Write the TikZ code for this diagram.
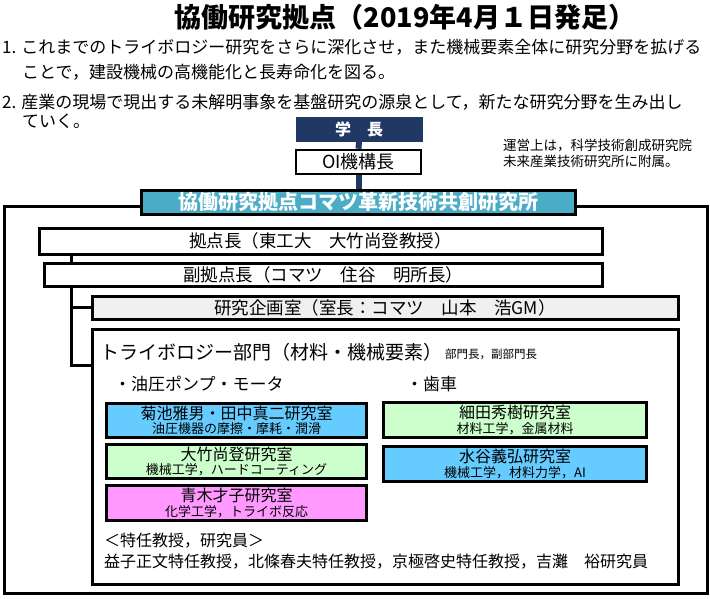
\documentclass[tikz,border=0pt]{standalone}
\usepackage{fontspec}
\setmainfont{Noto Sans CJK JP}
\usepackage{tikz}
\usetikzlibrary{positioning,calc}
\definecolor{chiefnavy}{RGB}{31,56,100}
\definecolor{hubcyan}{RGB}{75,172,198}
\definecolor{labblue}{RGB}{102,204,255}
\definecolor{labgreen}{RGB}{204,255,204}
\definecolor{labpink}{RGB}{255,153,255}
\definecolor{plangray}{RGB}{240,240,240}
\newcommand{\pxsize}[1]{\fontsize{#1}{#1}\selectfont}

\begin{document}
\begin{tikzpicture}[x=1pt, y=-1pt,
    headline/.style={font=\bfseries\pxsize{27}, inner sep=0pt},
    para/.style={anchor=west, font=\pxsize{17}, inner sep=0pt},
    chief/.style={fill=chiefnavy, draw=chiefnavy, text=white, font=\bfseries\pxsize{16}, minimum width=126, minimum height=24, inner sep=0pt},
    office/.style={draw, line width=2.5pt, fill=white, font=\pxsize{18}, minimum width=125, minimum height=24, inner sep=0pt},
    hub/.style={draw, line width=3pt, fill=hubcyan, text=white, font=\bfseries\pxsize{20}, minimum width=434, minimum height=24, inner sep=0pt},
    frame/.style={draw, line width=3pt, inner sep=0pt},
    rank/.style={draw, line width=3pt, fill=white, font=\pxsize{17.5}, inner sep=0pt},
    lab/.style={draw, line width=3pt, align=center, inner sep=0pt, font=\pxsize{16}},
    note/.style={anchor=west, inner sep=0pt},
    trunk/.style={chiefnavy, line width=6pt},
    link/.style={line width=2.5pt}
]
    \useasboundingbox (0,0) rectangle (710,598);

    \node[headline] (title) at (405,17) {協働研究拠点（2019年4月１日発足）};
    \node[para] (aim1) at (2,47) {1. これまでのトライボロジー研究をさらに深化させ，また機械要素全体に研究分野を拡げる};
    \node[para] (aim1b) at (22,72) {ことで，建設機械の高機能化と長寿命化を図る。};
    \node[para] (aim2) at (2,102) {2. 産業の現場で現出する未解明事象を基盤研究の源泉として，新たな研究分野を生み出し};
    \node[para] (aim2b) at (22,121) {ていく。};

    \node[chief] (president) at (359,129) {学　長};
    \node[office] (oi) at (358.5,162) {OI機構長};
    \node[note, anchor=north west, align=left, font=\pxsize{13.5}] (affil) at (503,139)
        {運営上は，科学技術創成研究院\\[2pt]未来産業技術研究所に附属。};

    \node[frame, minimum width=703, minimum height=387] (institute) at (355.5,399.5) {};
    \draw[trunk] (president.south) -- (oi.north);
    \draw[trunk] (oi.south) -- (358.5,189);
    \node[hub] (hub) at (358,202) {協働研究拠点コマツ革新技術共創研究所};

    \node[rank, minimum width=563, minimum height=26] (director) at (320.5,241) {拠点長（東工大　大竹尚登教授）};
    \node[rank, minimum width=558, minimum height=23] (deputy) at (323,274.5) {副拠点長（コマツ　住谷　明所長）};
    \node[rank, fill=plangray, minimum width=586, minimum height=23] (planning) at (385,307.5) {研究企画室（室長：コマツ　山本　浩GM）};
    \node[rank, minimum width=586, minimum height=255] (tribo) at (385,456.5) {};

    \draw[link] ([xshift=34pt]director.south west) -- ([xshift=29pt]deputy.north west);
    \draw[link] ([xshift=29pt]deputy.south west) |- (planning.west);
    \draw[link] ([xshift=29pt]deputy.south west) |- ([yshift=-38pt]tribo.north west);

    \node[note, font=\pxsize{19}] (tribotitle) at (100,352) {トライボロジー部門（材料・機械要素）};
    \node[note, font=\pxsize{11.5}] (heads) at (445,354) {部門長，副部門長};
    \node[note, font=\pxsize{17}] (hydraulic) at (114,384) {・油圧ポンプ・モータ};
    \node[note, font=\pxsize{17}] (gear) at (406,384) {・歯車};

    \node[lab, fill=labblue, minimum width=260, minimum height=34] (kikuchi) at (236.5,420.5)
        {菊池雅男・田中真二研究室\\[-1.5pt]{\pxsize{13}油圧機器の摩擦・摩耗・潤滑}};
    \node[lab, fill=labgreen, minimum width=260, minimum height=34] (otake) at (236.5,461.5)
        {大竹尚登研究室\\[-1.5pt]{\pxsize{13}機械工学，ハードコーティング}};
    \node[lab, fill=labpink, minimum width=260, minimum height=35] (aoki) at (236.5,503)
        {青木才子研究室\\[-1.5pt]{\pxsize{13}化学工学，トライボ反応}};
    \node[lab, fill=labgreen, minimum width=263, minimum height=35] (hosoda) at (515,420)
        {細田秀樹研究室\\[-1.5pt]{\pxsize{13}材料工学，金属材料}};
    \node[lab, fill=labblue, minimum width=263, minimum height=35] (mizutani) at (515,464)
        {水谷義弘研究室\\[-1.5pt]{\pxsize{13}機械工学，材料力学，AI}};

    \node[note, font=\pxsize{16}] (staffhead) at (104,541) {＜特任教授，研究員＞};
    \node[note, font=\pxsize{16}] (staff) at (104,562) {益子正文特任教授，北條春夫特任教授，京極啓史特任教授，吉灘　裕研究員};
\end{tikzpicture}
\end{document}
